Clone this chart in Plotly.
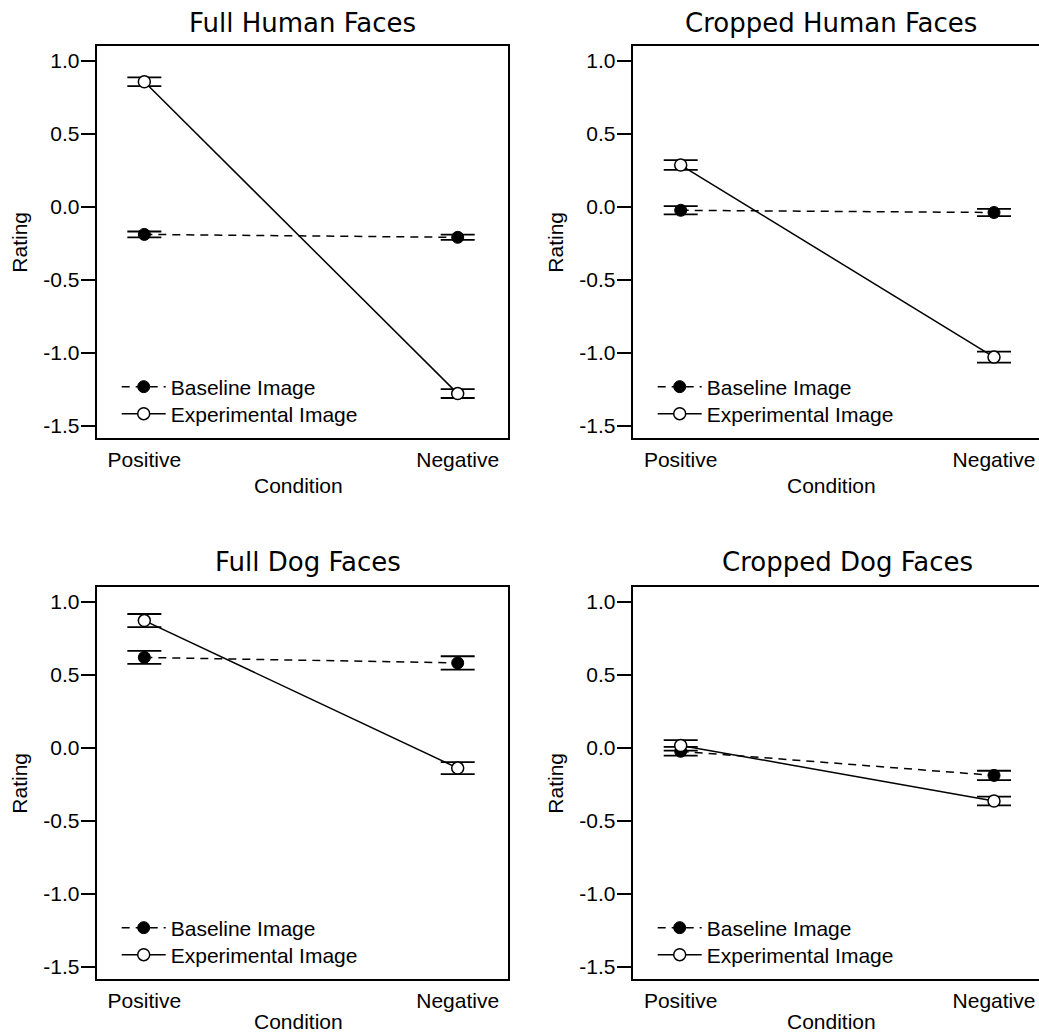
import plotly.graph_objects as go

# ---------------- data ----------------
conditions = ["Positive", "Negative"]
panel_titles = ["Full Human Faces", "Cropped Human Faces", "Full Dog Faces", "Cropped Dog Faces"]
series_names = ["Baseline Image", "Experimental Image"]

full_human_baseline = [-0.19, -0.21]
full_human_baseline_se = [0.020, 0.018]
full_human_experimental = [0.855, -1.28]
full_human_experimental_se = [0.030, 0.030]

cropped_human_baseline = [-0.025, -0.04]
cropped_human_baseline_se = [0.028, 0.025]
cropped_human_experimental = [0.285, -1.03]
cropped_human_experimental_se = [0.033, 0.038]

full_dog_baseline = [0.618, 0.58]
full_dog_baseline_se = [0.045, 0.046]
full_dog_experimental = [0.87, -0.14]
full_dog_experimental_se = [0.045, 0.041]

cropped_dog_baseline = [-0.025, -0.19]
cropped_dog_baseline_se = [0.030, 0.032]
cropped_dog_experimental = [0.015, -0.365]
cropped_dog_experimental_se = [0.036, 0.030]

y_tickvals = [-1.5, -1.0, -0.5, 0.0, 0.5, 1.0]
y_ticktext = ["-1.5", "-1.0", "-0.5", "0.0", "0.5", "1.0"]
x_title = "Condition"
y_title = "Rating"

panels = [
    (full_human_baseline, full_human_baseline_se, full_human_experimental, full_human_experimental_se),
    (cropped_human_baseline, cropped_human_baseline_se, cropped_human_experimental, cropped_human_experimental_se),
    (full_dog_baseline, full_dog_baseline_se, full_dog_experimental, full_dog_experimental_se),
    (cropped_dog_baseline, cropped_dog_baseline_se, cropped_dog_experimental, cropped_dog_experimental_se),
]

# ---------------- layout geometry (pixels) ----------------
W, H = 1039, 1035
ARIAL = "Liberation Sans, Arial, sans-serif"
DEJAVU = "DejaVu Sans, sans-serif"
FS = 21

# plot boxes: (left, right, top, bottom) in px
boxes = [
    (96.7, 508.0, 46.0, 438.0),
    (632.7, 1039.0, 46.0, 438.0),
    (96.7, 508.0, 587.0, 979.0),
    (632.7, 1039.0, 587.0, 979.0),
]
x_ranges = [
    [-0.152, 1.1605],
    [-0.1532, 1.1436],
    [-0.152, 1.1605],
    [-0.1532, 1.1436],
]
y_range = [-1.584, 1.1]
title_x = [302, 831, 308, 847]
title_y = [23, 23, 562, 562]
xtitle_offset = [47, 47, 42, 42]
legend_row_offsets = [51, 24]  # px above plot bottom for each legend row

fig = go.Figure()
annotations = []
legend_layout = {}

for i, (b, bse, e, ese) in enumerate(panels):
    n = i + 1
    xa = "x" if n == 1 else f"x{n}"
    ya = "y" if n == 1 else f"y{n}"
    l, r, t, btm = boxes[i]
    lg_names = []
    for k in range(2):
        idx = 2 * i + k + 1
        lg_names.append("legend" if idx == 1 else f"legend{idx}")
        legend_layout[lg_names[k]] = dict(
            x=(l + 20) / W, xanchor="left", xref="paper",
            y=1 - (btm - legend_row_offsets[k]) / H, yanchor="middle", yref="paper",
            bgcolor="rgba(0,0,0,0)", borderwidth=0,
            font=dict(family=ARIAL, size=FS, color="black"),
            itemwidth=44,
        )
    fig.add_trace(go.Scatter(
        x=conditions, y=b, xaxis=xa, yaxis=ya, name=series_names[0], legend=lg_names[0],
        mode="lines+markers",
        line=dict(color="black", width=1.5, dash="8px,6px"),
        marker=dict(symbol="circle", size=12, color="black", line=dict(color="black", width=1)),
        error_y=dict(type="data", array=bse, visible=True, color="black", thickness=1.8, width=17),
    ))
    fig.add_trace(go.Scatter(
        x=conditions, y=e, xaxis=xa, yaxis=ya, name=series_names[1], legend=lg_names[1],
        mode="lines+markers",
        line=dict(color="black", width=1.5),
        marker=dict(symbol="circle", size=12, color="white", line=dict(color="black", width=1.5)),
        error_y=dict(type="data", array=ese, visible=True, color="black", thickness=1.8, width=17),
    ))

    right_panel = (i % 2 == 1)
    xkey = "xaxis" if n == 1 else f"xaxis{n}"
    ykey = "yaxis" if n == 1 else f"yaxis{n}"
    fig.update_layout(**{
        xkey: dict(
            domain=[l / W, r / W], anchor=ya, type="category",
            range=x_ranges[i], showline=True, mirror=True, linecolor="black", linewidth=2,
            ticks="outside", ticklen=2, tickcolor="rgba(0,0,0,0)",
            showgrid=False, zeroline=False,
            tickfont=dict(family=ARIAL, size=FS, color="black"),
        ),
        ykey: dict(
            domain=[1 - btm / H, 1 - t / H], anchor=xa,
            range=y_range, showline=True, mirror=(not right_panel), linecolor="black", linewidth=2,
            ticks="outside", ticklen=14, tickwidth=2, tickcolor="black",
            tickvals=y_tickvals, ticktext=y_ticktext, ticklabelstandoff=-3,
            showgrid=False, zeroline=False,
            tickfont=dict(family=ARIAL, size=FS, color="black"),
        ),
    })

    annotations.append(dict(
        text=panel_titles[i], x=title_x[i] / W, y=1 - title_y[i] / H, xref="paper", yref="paper",
        xanchor="center", yanchor="middle", showarrow=False,
        font=dict(family=DEJAVU, size=26, color="black"),
    ))
    annotations.append(dict(
        text=x_title, x=((l + min(r, 1044)) / 2 - 4) / W, y=1 - (btm + xtitle_offset[i]) / H,
        xref="paper", yref="paper", borderpad=0,
        xanchor="center", yanchor="middle", showarrow=False,
        font=dict(family=ARIAL, size=FS, color="black"),
    ))
    annotations.append(dict(
        text=y_title, x=(l - 78) / W, y=1 - ((t + btm) / 2) / H, xref="paper", yref="paper",
        xanchor="center", yanchor="middle", showarrow=False, textangle=-90,
        font=dict(family=ARIAL, size=FS, color="black"),
    ))

fig.update_layout(
    width=W, height=H,
    margin=dict(l=0, r=0, t=0, b=0),
    paper_bgcolor="white", plot_bgcolor="white",
    annotations=annotations,
    showlegend=True,
    **legend_layout,
)

fig.write_html(
    "out.html",
    config={"displayModeBar": False},
    post_script="document.body.style.margin='0';document.body.style.overflow='hidden';",
)
